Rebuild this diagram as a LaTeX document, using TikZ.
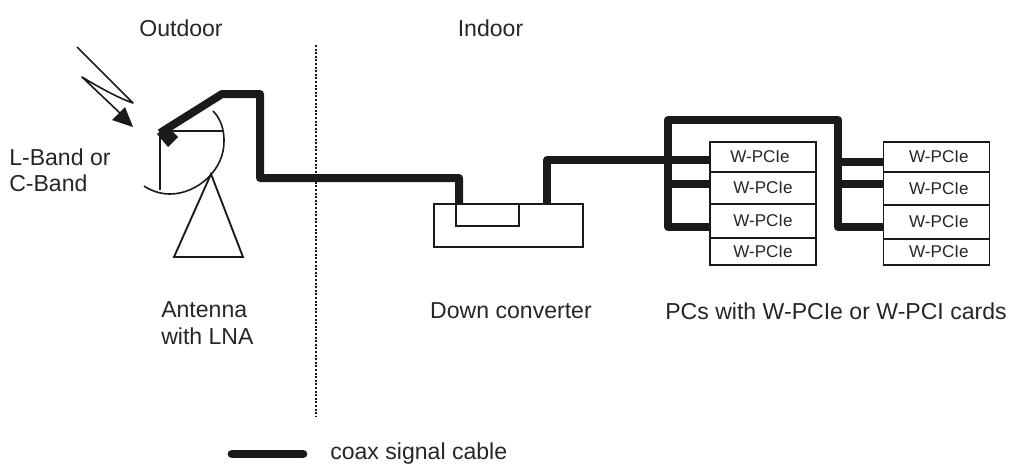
\documentclass[tikz,border=0pt]{standalone}
\usepackage{fontspec}
\setmainfont{Liberation Sans}
\definecolor{ink}{HTML}{1A1A1A}
\definecolor{txt}{HTML}{262626}
\tikzset{
  cable/.style={draw=ink,line width=6pt,line join=round,line cap=round},
  cable end/.style={cable,line cap=butt},
  thin line/.style={draw=ink,line width=1.4pt,line join=miter},
  hair/.style={draw=ink,line width=1.2pt},
  label text/.style={text=txt,font=\fontsize{17.3}{19.5}\selectfont,inner sep=0pt,align=left},
  card/.style={thin line,fill=white,inner sep=0pt,minimum width=79.5pt,text=txt,font=\fontsize{12.8}{14}\selectfont},
  conv/.style={thin line,inner sep=0pt},
}
\begin{document}
\begin{tikzpicture}[x=.75pt,y=-.75pt]
\useasboundingbox (0,0) rectangle (1009,464);
% labels
\node[label text] (outdoor) at (181,28) {Outdoor};
\node[label text] (indoor) at (490.5,28) {Indoor};
\node[label text,anchor=west] (band) at (9,170) {L-Band or\\C-Band};
\node[label text,anchor=west,font=\fontsize{17.3}{20.2}\selectfont] (ant) at (161,323) {Antenna\\with LNA};
\node[label text] (dc) at (511,311) {Down converter};
\node[label text] (pcs) at (836,311) {PCs with W-PCIe or W-PCI cards};
\node[label text,anchor=base west] (legend) at (330,459) {coax signal cable};
% divider
\coordinate (divT) at (316,45);
\coordinate (divB) at (316,417);
\draw[ink,line width=1.5pt,dash pattern=on 1.5pt off 1.2pt] (divT) -- (divB);
% converter
\node[conv,minimum width=111.75pt,minimum height=32.25pt] (down) at (508.5,225.5) {};
\node[conv,minimum width=47.25pt,minimum height=16.5pt] (slot) at (487.5,215) {};
% cards left
\node[card,minimum height=22.5pt] (a1) at (763,157) {\hspace*{-4.5pt}W-PCIe};
\node[card,minimum height=24pt] (a2) at (763,188) {W-PCIe};
\node[card,minimum height=25.5pt] (a3) at (763,221) {W-PCIe};
\node[card,minimum height=20.25pt] (a4) at (763,251.5) {W-PCIe};
% cards right
\node[card,minimum height=22.5pt] (b1) at (936.5,157) {\hspace*{3.5pt}W-PCIe};
\node[card,minimum height=24.75pt] (b2) at (936.5,188.5) {\hspace*{3.5pt}W-PCIe};
\node[card,minimum height=25.5pt] (b3) at (936.5,222) {\hspace*{3.5pt}W-PCIe};
\node[card,minimum height=19.5pt] (b4) at (936.5,252) {\hspace*{3.5pt}W-PCIe};
% antenna
\coordinate (feed) at (160,133);
\coordinate (apex) at (211,174);
\coordinate (baseL) at (174,257);
\coordinate (baseR) at (243,257);
\coordinate (dishT) at (213,111);
\coordinate (dishM) at (224,140);
\coordinate (dishB) at (170,194);
\coordinate (dishE) at (144,186);
\coordinate (armE) at (223,131);
\coordinate (armV) at (160,190);
\draw[thin line] (apex) -- (baseL) -- (baseR) -- cycle;
\draw[hair] (dishT) .. controls (221,119) and (224,130) .. (dishM)
   .. controls (225,170) and (197,194) .. (dishB) .. controls (159,194) and (150,190) .. (dishE);
\draw[hair] (feed |- armE) -- (armE);
\draw[hair] (feed) -- (armV);
% cable path
\coordinate (k1) at (222,94);
\coordinate (k2) at (260,94);
\coordinate (k3) at (260,178);
\coordinate (k4) at (459,178);
\coordinate (k5) at (459,204);
\draw[cable end] (feed) -- (k1) -- (k2) -- (k3) -- (k4) -- (k5);
\coordinate (o1) at (547,204);
\coordinate (o2) at (547,160);
\coordinate (j1) at (668,160);
\draw[cable end] (o1) -- (o2) -- (j1);
\coordinate (t1) at (668,120);
\coordinate (t2) at (838,120);
\coordinate (j2) at (668,184);
\coordinate (j3) at (668,227);
\coordinate (r1) at (838,162);
\coordinate (r2) at (838,184);
\coordinate (r3) at (838,227);
\draw[cable] (j3) -- (t1) -- (t2) -- (r3);
\draw[cable end] (j1) -- (a1.west|-j1);
\draw[cable end] (j2) -- (a2.west|-j2);
\draw[cable end] (j3) -- (a3.west|-j3);
\draw[cable end] (r1) -- (b1.west|-r1);
\draw[cable end] (r2) -- (b2.west|-r2);
\draw[cable end] (r3) -- (b3.west|-r3);
% horn
\fill[ink] (157,134) -- (167,126) -- (178,137) -- (168,147) -- cycle;
% lightning
\coordinate (l1) at (77,47);
\coordinate (l2) at (133,103);
\coordinate (l3) at (82,77);
\coordinate (l4) at (122,115);
\draw[hair,line join=round] (l1) -- (l2) .. controls (118,98) and (95,85) .. (l3) -- (l4);
\fill[ink] (133,127) -- (112,120) -- (125,107) -- cycle;
% legend
\coordinate (lg1) at (232,454);
\coordinate (lg2) at (303,454);
\draw[ink,line width=6.6pt,line cap=round] (lg1) -- (lg2);
\end{tikzpicture}
\end{document}
